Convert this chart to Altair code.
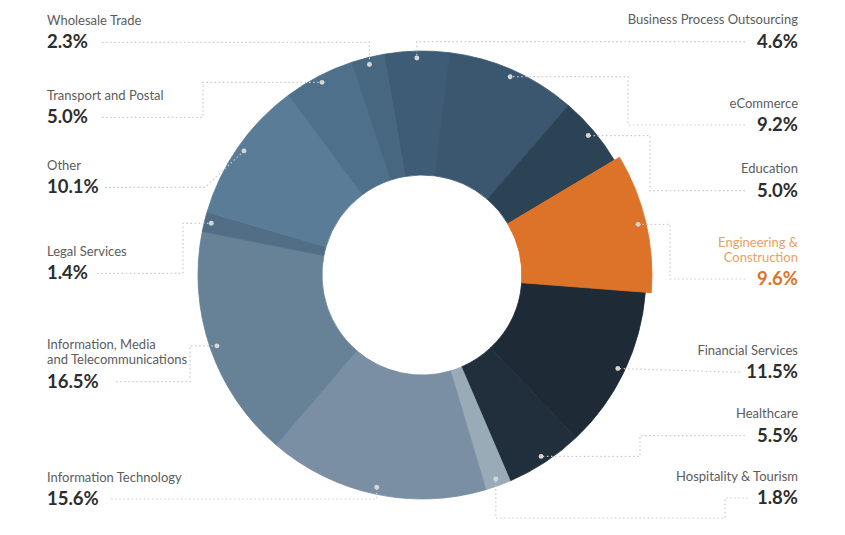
import math
import altair as alt
import pandas as pd

# ---------------- data ----------------
categories = [
    "Business Process Outsourcing", "eCommerce", "Education",
    "Engineering & Construction", "Financial Services", "Healthcare",
    "Hospitality & Tourism", "Information Technology",
    "Information, Media and Telecommunications", "Legal Services", "Other",
    "Transport and Postal", "Wholesale Trade",
]
shares = [4.6, 9.2, 5.0, 9.6, 11.5, 5.5, 1.8, 15.6, 16.5, 1.4, 10.1, 5.0, 2.3]
name_lines = [
    ["Business Process Outsourcing"], ["eCommerce"], ["Education"],
    ["Engineering &", "Construction"], ["Financial Services"], ["Healthcare"],
    ["Hospitality & Tourism"], ["Information Technology"],
    ["Information, Media", "and Telecommunications"], ["Legal Services"], ["Other"],
    ["Transport and Postal"], ["Wholesale Trade"],
]
highlight = "Engineering & Construction"

# ---------------- styles ----------------
slice_colors = ["#3e5c75", "#3a576f", "#2c4355", "#dd7329", "#1e2a35", "#212f3d",
                "#9aabb8", "#7a8fa3", "#678297", "#526e86", "#5b7c97", "#4f708b", "#47667f"]
FONT = "Lato"
NAME_GRAY = "#5c5c5c"
PCT_DARK = "#2d2d2d"
ORANGE = "#dd7329"
ORANGE_LIGHT = "#e9a066"
LEADER_GRAY = "#c9c9c9"

# ---------------- layout (page pixels) ----------------
W, H = 829, 515
OFF = 8
CX, CY = 422, 275
R_IN, R_OUT, R_HI = 100, 224, 230
R_DOT = 217
START_DEG = -9.8
LEFT_X, RIGHT_X = 47, 798
pct_y = [47.7, 131, 196.7, 285, 378.3, 441.7, 504, 505, 387.7, 279.3, 193.3, 123.3, 48.3]
lead_x0 = [745, 745, 745, 745, 740, 745, 748, 111, 116, 97, 105, 102, 102]
elbow_x = [None, 628, 650, 670, None, 640, 725, None, 190, 183, 205, 203, None]
route = ["hv", "hvh", "hvh", "hvh", "h", "hvh", "hvhv", "hv", "hvh", "hvh", "hd", "hvh", "hv"]
ROUTE_BOTTOM = 518

total = sum(shares)
start = math.radians(START_DEG)

# mid angle of each slice -> dot position
dots = []
cum = 0.0
for c, v in zip(categories, shares):
    mid = start + (cum + v / 2) / total * 2 * math.pi
    cum += v
    r = (R_HI - 8) if c == highlight else R_DOT
    deg = (math.degrees(mid) + 180) % 360 - 180   # signed angle, 0 = top, clockwise
    dots.append((CX + r * math.sin(mid), CY - r * math.cos(mid), deg))

df = pd.DataFrame({"cat": categories, "share": shares, "idx": list(range(len(categories)))})

# dots / leader lines
dot_df = pd.DataFrame({"cat": categories,
                       "px": [d[0] for d in dots], "py": [d[1] for d in dots]})
lead_rows = []
for i, c in enumerate(categories):
    yl = pct_y[i] - 6
    x0, xe = lead_x0[i], elbow_x[i]
    xd, yd = dots[i][0], dots[i][1]
    st = route[i]
    if st == "h":
        pts = [(x0, yl), (xd, yd)]
    elif st == "hv":
        pts = [(x0, yl), (xd, yl), (xd, yd)]
    elif st == "hvh":
        pts = [(x0, yl), (xe, yl), (xe, yd), (xd, yd)]
    elif st == "hd":
        pts = [(x0, yl), (xe, yl), (xd, yd)]
    else:
        pts = [(x0, yl), (xe, yl), (xe, ROUTE_BOTTOM), (xd, ROUTE_BOTTOM), (xd, yd)]
    for k, (px, py) in enumerate(pts):
        lead_rows.append({"cat": c, "k": k, "px": px, "py": py})
lead_df = pd.DataFrame(lead_rows)

# labels
name_rows, pct_rows = [], []
for i, c in enumerate(categories):
    side = "right" if dots[i][2] > -5 else "left"
    x = RIGHT_X if side == "right" else LEFT_X
    lines = name_lines[i]
    n = len(lines)
    for j, t in enumerate(lines):
        name_rows.append({"cat": c, "side": side, "px": x,
                          "py": pct_y[i] - 23.3 - 15 * (n - 1 - j), "txt": t})
    pct_rows.append({"cat": c, "side": side, "px": x, "py": pct_y[i],
                     "txt": f"{shares[i]:.1f}%"})
name_df = pd.DataFrame(name_rows)
pct_df = pd.DataFrame(pct_rows)

# ---------------- scales ----------------
xs = alt.Scale(domain=[OFF, OFF + W], range=[0, W])
ys = alt.Scale(domain=[OFF, OFF + H], range=[0, H])
theta_scale = alt.Scale(domain=[0, total], range=[start, start + 2 * math.pi])
color_scale = alt.Scale(domain=categories, range=slice_colors)

theta = alt.Theta("share:Q", stack=True, scale=theta_scale)

arcs = alt.Chart(df).mark_arc(innerRadius=R_IN, outerRadius=R_OUT, strokeWidth=0.8).encode(
    theta=theta,
    color=alt.Color("cat:N", scale=color_scale, legend=None),
    stroke=alt.Stroke("cat:N", scale=color_scale, legend=None),
    order=alt.Order("idx:Q"),
    x=alt.value(CX - OFF), y=alt.value(CY - OFF),
)
arcs_hi = alt.Chart(df).mark_arc(innerRadius=R_IN, outerRadius=R_HI, strokeWidth=0.8).encode(
    theta=theta,
    color=alt.Color("cat:N", scale=color_scale, legend=None),
    stroke=alt.Stroke("cat:N", scale=color_scale, legend=None),
    order=alt.Order("idx:Q"),
    opacity=alt.condition(alt.datum.cat == highlight, alt.value(1), alt.value(0)),
    x=alt.value(CX - OFF), y=alt.value(CY - OFF),
)

leaders = alt.Chart(lead_df).mark_line(
    color=LEADER_GRAY, strokeWidth=1.2, strokeDash=[1.5, 2.6]
).encode(
    x=alt.X("px:Q", scale=xs, axis=None),
    y=alt.Y("py:Q", scale=ys, axis=None),
    detail="cat:N",
    order=alt.Order("k:Q"),
)

dot_layer = alt.Chart(dot_df).mark_circle(size=24, color="#d6d6d6", opacity=1).encode(
    x=alt.X("px:Q", scale=xs, axis=None),
    y=alt.Y("py:Q", scale=ys, axis=None),
)


def text_layer(data, side, size, weight, base_color, hi_color):
    return alt.Chart(data).transform_filter(alt.datum.side == side).mark_text(
        align=side, baseline="alphabetic", font=FONT, fontSize=size, fontWeight=weight
    ).encode(
        x=alt.X("px:Q", scale=xs, axis=None),
        y=alt.Y("py:Q", scale=ys, axis=None),
        text="txt:N",
        color=alt.condition(alt.datum.cat == highlight, alt.value(hi_color), alt.value(base_color)),
    )


texts = [
    text_layer(name_df, "left", 13, "normal", NAME_GRAY, ORANGE_LIGHT),
    text_layer(name_df, "right", 13, "normal", NAME_GRAY, ORANGE_LIGHT),
    text_layer(pct_df, "left", 18.5, "bold", PCT_DARK, ORANGE),
    text_layer(pct_df, "right", 18.5, "bold", PCT_DARK, ORANGE),
]

chart = alt.layer(arcs, arcs_hi, leaders, dot_layer, *texts).properties(
    width=W, height=H, padding=0,
    autosize=alt.AutoSizeParams(type="none"),
).configure_view(stroke=None).resolve_scale(x="shared", y="shared")

chart.save("out.html", embed_options={"renderer": "svg", "actions": False})
